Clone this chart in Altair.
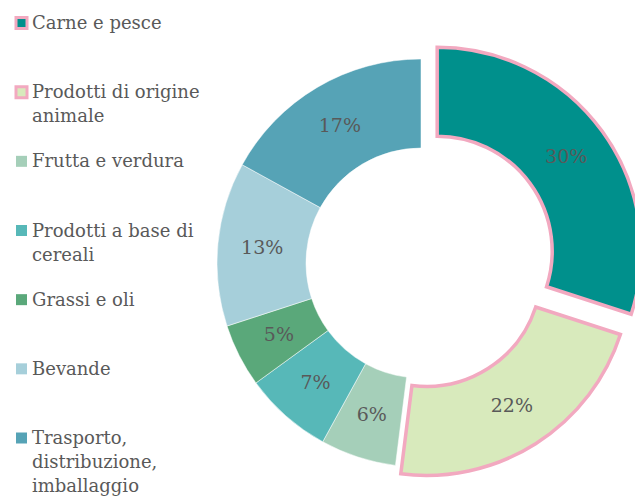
import altair as alt
import pandas as pd

categories = ["Carne e pesce", "Prodotti di origine animale", "Frutta e verdura",
              "Prodotti a base di cereali", "Grassi e oli", "Bevande",
              "Trasporto, distribuzione, imballaggio"]
legend_labels = ["Carne e pesce", "Prodotti di origine\nanimale", "Frutta e verdura",
                 "Prodotti a base di\ncereali", "Grassi e oli", "Bevande",
                 "Trasporto,\ndistribuzione,\nimballaggio"]
values = [30, 22, 6, 7, 5, 13, 17]
colors = ["#00908C", "#D8EABC", "#A5CFB9", "#57B8B8", "#5AA87A", "#A6CFDA", "#56A3B6"]
exploded = ["Carne e pesce", "Prodotti di origine animale"]

# style: explosion distance (px) of the highlighted slices
EXPLODE = {"Carne e pesce": 20, "Prodotti di origine animale": 10}

PINK = "#F2A9C0"
TEXT = "#595959"
FONT = "DejaVu Serif"
CX, CY = 413, 255
R_OUT, R_IN = 204, 115

df = pd.DataFrame({
    "cat": categories,
    "label": legend_labels,
    "value": values,
    "order": list(range(len(categories))),
    "exp": [c in exploded for c in categories],
})

off_expr = " : ".join(
    [f"datum.cat === '{k}' ? {v}" for k, v in EXPLODE.items()] + ["0"]
)

color = alt.Color("cat:N", scale=alt.Scale(domain=categories, range=colors), legend=None)

base = alt.Chart(df).transform_joinaggregate(
    total="sum(value)"
).transform_window(
    cum="sum(value)", sort=[alt.SortField("order")], frame=[None, 0]
).transform_calculate(
    t0="(datum.cum - datum.value) / datum.total * 2 * PI",
    t1="datum.cum / datum.total * 2 * PI",
).transform_calculate(
    mid="(datum.t0 + datum.t1) / 2",
    off=off_expr,
).transform_calculate(
    px=f"{CX} + datum.off * sin(datum.mid)",
    py=f"{CY} - datum.off * cos(datum.mid)",
    lx=f"{CX} + (datum.off + {(R_OUT + R_IN) / 2}) * sin(datum.mid)",
    ly=f"{CY} - (datum.off + {(R_OUT + R_IN) / 2}) * cos(datum.mid)",
    pct="datum.value + '%'",
)

arcs = base.mark_arc(outerRadius=R_OUT, innerRadius=R_IN).encode(
    theta=alt.Theta("t0:Q", scale=None),
    theta2="t1:Q",
    x=alt.X("px:Q", scale=None, axis=None),
    y=alt.Y("py:Q", scale=None, axis=None),
    color=color,
    stroke=alt.condition("datum.exp", alt.value(PINK), alt.value("#ffffff")),
    strokeWidth=alt.condition("datum.exp", alt.value(3.5), alt.value(0.5)),
)

pct = base.mark_text(font=FONT, fontSize=19, color=TEXT, baseline="middle", align="center").encode(
    x=alt.X("lx:Q", scale=None, axis=None),
    y=alt.Y("ly:Q", scale=None, axis=None),
    text="pct:N",
)

ly = alt.Y("cat:N", scale=alt.Scale(type="point", domain=categories, range=[15, 430], padding=0), axis=None)

leg_sym = alt.Chart(df).mark_square(size=121, opacity=1, filled=True).encode(
    x=alt.value(13.5),
    y=ly,
    color=color,
    stroke=alt.condition("datum.exp", alt.value(PINK), alt.value(None)),
    strokeWidth=alt.condition("datum.exp", alt.value(3), alt.value(0)),
)

leg_txt = alt.Chart(df).mark_text(font=FONT, fontSize=18, color=TEXT, align="left",
                                  baseline="alphabetic", dy=6, lineBreak="\n",
                                  lineHeight=24).encode(
    x=alt.value(24),
    y=ly,
    text="label:N",
)

chart = alt.layer(arcs, pct, leg_sym, leg_txt).resolve_scale(
    x="independent", y="independent"
).properties(
    width=627, height=490, padding=0,
    autosize=alt.AutoSizeParams(type="none"),
).configure_view(stroke=None)

chart.save("out.html", embed_options={"renderer": "svg", "actions": False})
